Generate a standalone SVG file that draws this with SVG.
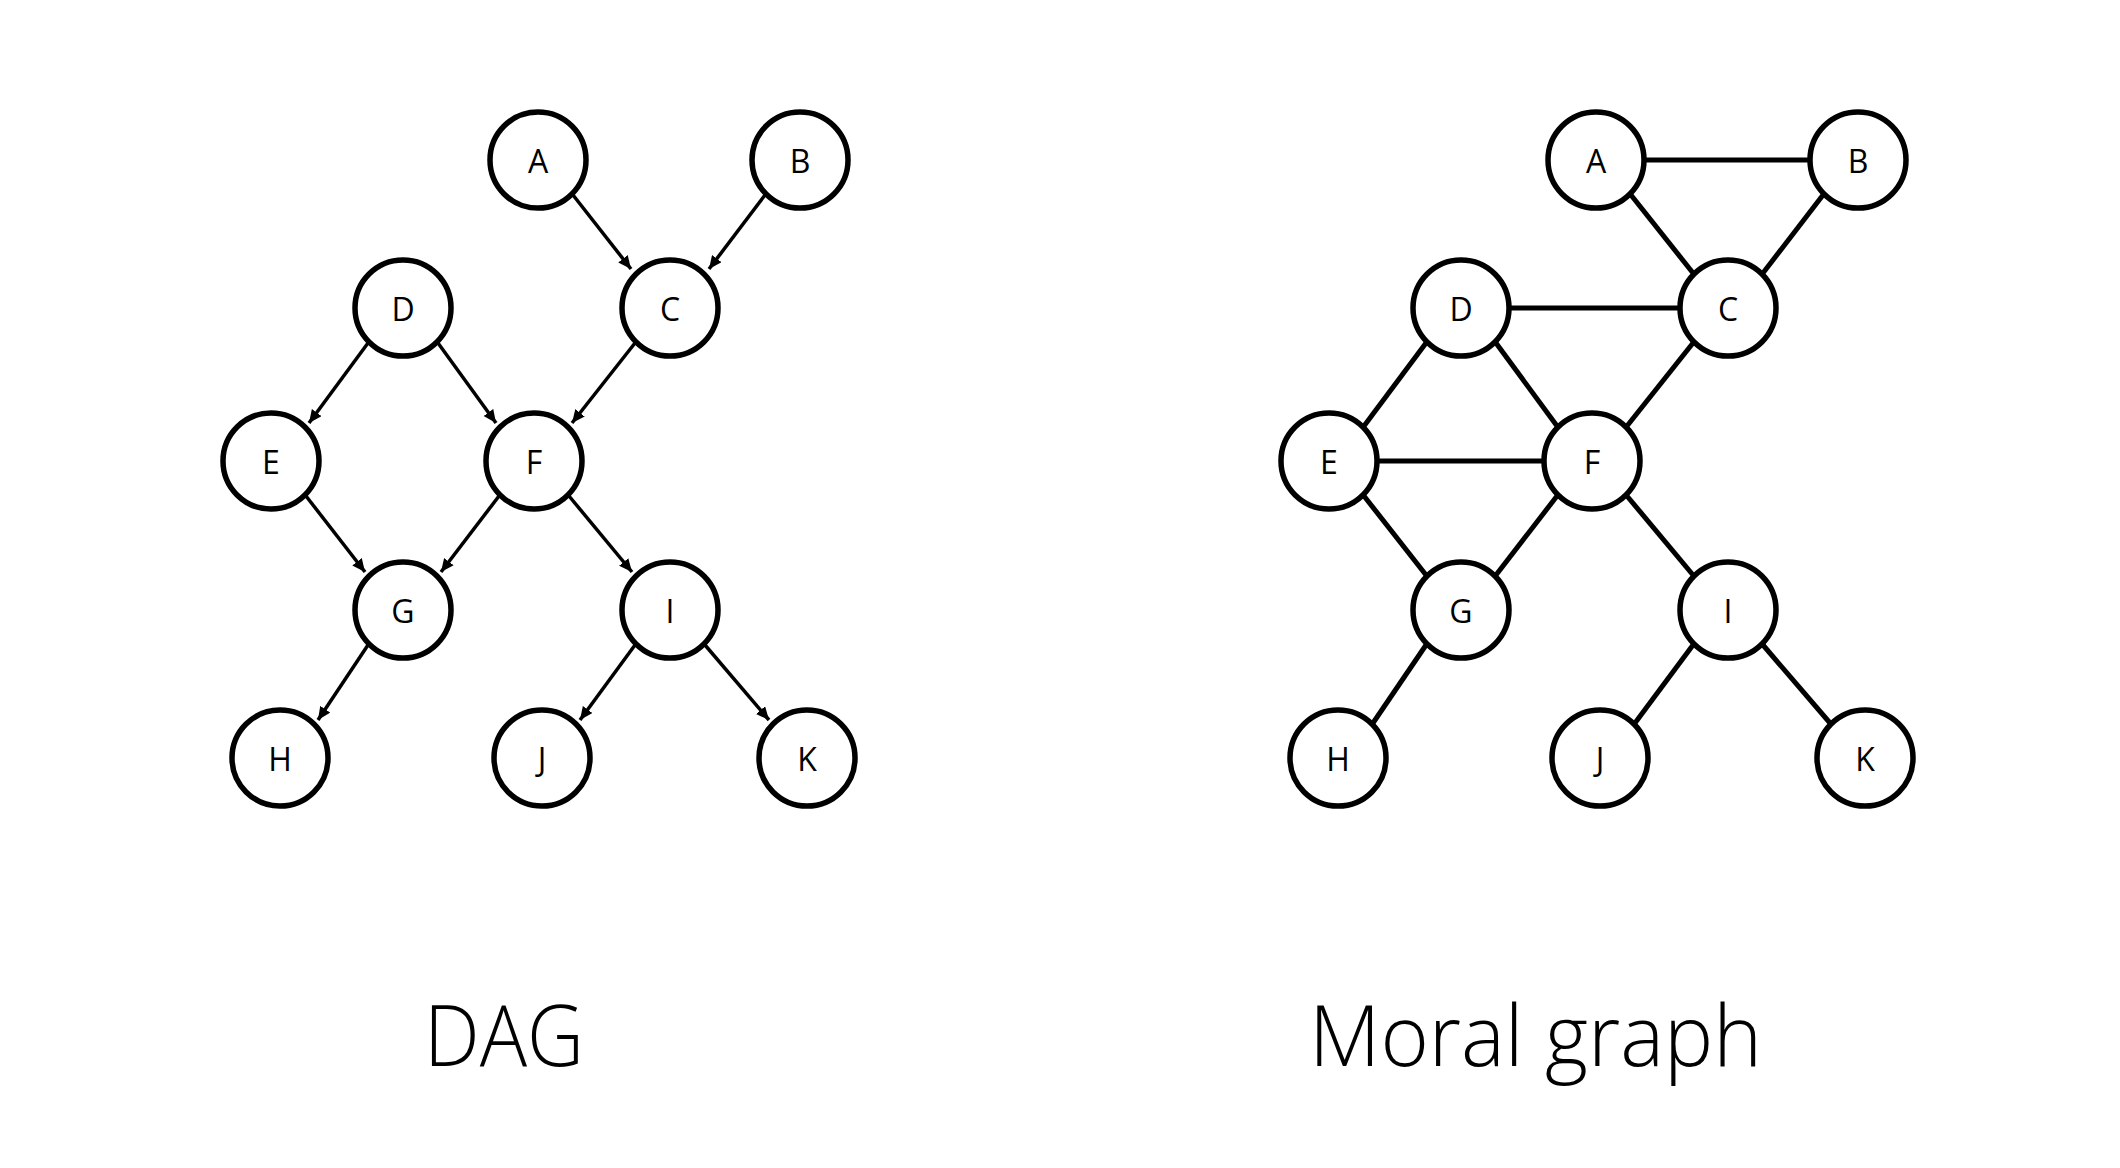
<svg xmlns="http://www.w3.org/2000/svg" width="2120" height="1168" viewBox="0 0 2120 1168">
<style>
.node circle{fill:#fff;stroke:#000;stroke-width:5.5}
.node text{font-family:"Open Sans","Noto Sans",sans-serif;font-size:32px;text-anchor:middle;fill:#000}
.arr{stroke:#000;stroke-width:3.5;fill:none;marker-end:url(#ah)}
.und{stroke:#000;stroke-width:5;fill:none}
.title{font-family:"Open Sans","Noto Sans",sans-serif;font-size:84px;font-weight:300;fill:#000}
</style>
<defs>
<marker id="ah" markerUnits="userSpaceOnUse" markerWidth="14" markerHeight="12" refX="13" refY="6" orient="auto">
<path d="M0,0 L13,6 L0,12 z" fill="#000"/>
</marker>
</defs>
<rect width="2120" height="1168" fill="#fff"/>
<g id="connectors">
<line class="arr" x1="573" y1="195" x2="631" y2="269"/>
<line class="arr" x1="765" y1="195" x2="709" y2="269"/>
<line class="arr" x1="368" y1="343" x2="309" y2="423"/>
<line class="arr" x1="438" y1="343" x2="496" y2="423"/>
<line class="arr" x1="635" y1="343" x2="572" y2="423"/>
<line class="arr" x1="306" y1="496" x2="365" y2="572"/>
<line class="arr" x1="499" y1="496" x2="441" y2="572"/>
<line class="arr" x1="569" y1="496" x2="632" y2="572"/>
<line class="arr" x1="368" y1="645" x2="318" y2="720"/>
<line class="arr" x1="635" y1="645" x2="580" y2="720"/>
<line class="arr" x1="705" y1="645" x2="769" y2="720"/>
<line class="und" x1="1646" y1="160" x2="1808" y2="160"/>
<line class="und" x1="1631" y1="195" x2="1693" y2="273"/>
<line class="und" x1="1823" y1="195" x2="1763" y2="273"/>
<line class="und" x1="1511" y1="308" x2="1678" y2="308"/>
<line class="und" x1="1426" y1="343" x2="1364" y2="426"/>
<line class="und" x1="1496" y1="343" x2="1557" y2="426"/>
<line class="und" x1="1693" y1="343" x2="1627" y2="426"/>
<line class="und" x1="1379" y1="461" x2="1542" y2="461"/>
<line class="und" x1="1364" y1="496" x2="1426" y2="575"/>
<line class="und" x1="1557" y1="496" x2="1496" y2="575"/>
<line class="und" x1="1627" y1="496" x2="1693" y2="575"/>
<line class="und" x1="1426" y1="645" x2="1373" y2="723"/>
<line class="und" x1="1693" y1="645" x2="1635" y2="723"/>
<line class="und" x1="1763" y1="645" x2="1830" y2="723"/>
</g>
<g id="dag-A" class="node"><circle cx="538" cy="160" r="48"/><text x="538" y="173">A</text></g>
<g id="dag-B" class="node"><circle cx="800" cy="160" r="48"/><text x="800" y="173">B</text></g>
<g id="dag-C" class="node"><circle cx="670" cy="308" r="48"/><text x="670" y="321">C</text></g>
<g id="dag-D" class="node"><circle cx="403" cy="308" r="48"/><text x="403" y="321">D</text></g>
<g id="dag-E" class="node"><circle cx="271" cy="461" r="48"/><text x="271" y="474">E</text></g>
<g id="dag-F" class="node"><circle cx="534" cy="461" r="48"/><text x="534" y="474">F</text></g>
<g id="dag-G" class="node"><circle cx="403" cy="610" r="48"/><text x="403" y="623">G</text></g>
<g id="dag-I" class="node"><circle cx="670" cy="610" r="48"/><text x="670" y="623">I</text></g>
<g id="dag-H" class="node"><circle cx="280" cy="758" r="48"/><text x="280" y="771">H</text></g>
<g id="dag-J" class="node"><circle cx="542" cy="758" r="48"/><text x="542" y="771">J</text></g>
<g id="dag-K" class="node"><circle cx="807" cy="758" r="48"/><text x="807" y="771">K</text></g>
<g id="moral-A" class="node"><circle cx="1596" cy="160" r="48"/><text x="1596" y="173">A</text></g>
<g id="moral-B" class="node"><circle cx="1858" cy="160" r="48"/><text x="1858" y="173">B</text></g>
<g id="moral-C" class="node"><circle cx="1728" cy="308" r="48"/><text x="1728" y="321">C</text></g>
<g id="moral-D" class="node"><circle cx="1461" cy="308" r="48"/><text x="1461" y="321">D</text></g>
<g id="moral-E" class="node"><circle cx="1329" cy="461" r="48"/><text x="1329" y="474">E</text></g>
<g id="moral-F" class="node"><circle cx="1592" cy="461" r="48"/><text x="1592" y="474">F</text></g>
<g id="moral-G" class="node"><circle cx="1461" cy="610" r="48"/><text x="1461" y="623">G</text></g>
<g id="moral-I" class="node"><circle cx="1728" cy="610" r="48"/><text x="1728" y="623">I</text></g>
<g id="moral-H" class="node"><circle cx="1338" cy="758" r="48"/><text x="1338" y="771">H</text></g>
<g id="moral-J" class="node"><circle cx="1600" cy="758" r="48"/><text x="1600" y="771">J</text></g>
<g id="moral-K" class="node"><circle cx="1865" cy="758" r="48"/><text x="1865" y="771">K</text></g>
<text class="title" x="424" y="1066" textLength="160" lengthAdjust="spacingAndGlyphs">DAG</text>
<text class="title" x="1309" y="1066" textLength="453" lengthAdjust="spacingAndGlyphs">Moral graph</text>
</svg>
